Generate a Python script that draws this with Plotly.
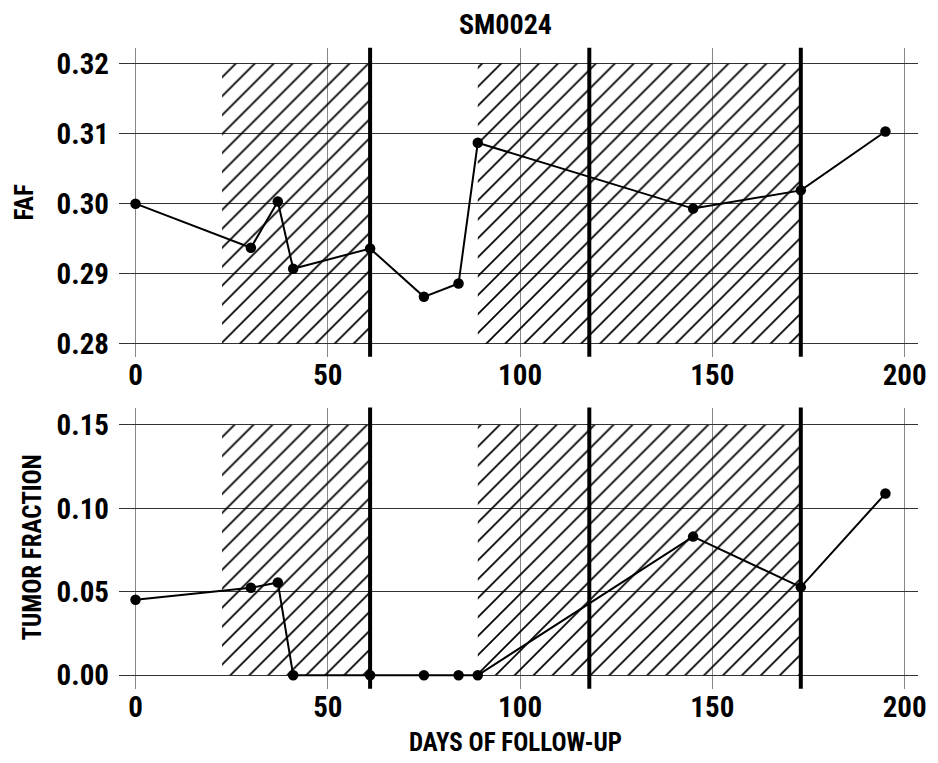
import plotly.graph_objects as go

# ---- data ----
days = [0, 30, 37, 41, 61, 75, 84, 89, 145, 173, 195]
faf = [0.3000, 0.2937, 0.3003, 0.2907, 0.2936, 0.2867, 0.2886, 0.3087, 0.2993, 0.3019, 0.3103]
tumor_fraction = [0.0452, 0.0524, 0.0556, 0.0, 0.0, 0.0, 0.0, 0.0, 0.0831, 0.0528, 0.1089]
event_days = [61, 118, 173]
hatch_spans = [(22.5, 61), (89, 173)]
faf_hatch_range = [0.28, 0.32]
tf_hatch_range = [0.0, 0.15]
x_ticks = [0, 50, 100, 150, 200]
faf_ticks = [0.28, 0.29, 0.30, 0.31, 0.32]
tf_ticks = [0.00, 0.05, 0.10, 0.15]
title_text = "SM0024"

FONT = "Roboto Condensed, Liberation Sans Narrow, Liberation Sans, Arial, sans-serif"

fig = go.Figure()

def add_hatch(xa, ya, yr):
    for x0, x1 in hatch_spans:
        fig.add_trace(go.Scatter(
            x=[x0, x1, x1, x0, x0], y=[yr[0], yr[0], yr[1], yr[1], yr[0]],
            xaxis=xa, yaxis=ya, mode="lines", line=dict(width=0, color="rgba(0,0,0,0)"),
            fill="toself", fillcolor="rgba(0,0,0,0)",
            fillpattern=dict(shape="/", size=13.4, solidity=0.13, fgcolor="black",
                             fgopacity=1, bgcolor="rgba(255,255,255,0)", fillmode="overlay"),
            hoverinfo="skip", showlegend=False))

add_hatch("x", "y", faf_hatch_range)
add_hatch("x2", "y2", tf_hatch_range)

for xa, ya, vals in (("x", "y", faf), ("x2", "y2", tumor_fraction)):
    fig.add_trace(go.Scatter(
        x=days, y=vals, xaxis=xa, yaxis=ya, mode="lines+markers",
        line=dict(color="black", width=2),
        marker=dict(color="black", size=10.5),
        showlegend=False))

for d in event_days:
    for xr, yr in (("x", "y domain"), ("x2", "y2 domain")):
        fig.add_shape(type="line", x0=d, x1=d, y0=0, y1=1, xref=xr, yref=yr,
                      line=dict(color="black", width=4), layer="above")

tickfont = dict(family=FONT, size=29, color="black", weight="bold")
xcommon = dict(range=[-4.3, 203.5], tickvals=x_ticks, showgrid=True, gridcolor="#888",
               gridwidth=1, zeroline=False, showline=False, ticks="",
               tickfont=tickfont, ticklabelstandoff=-2, ticklabeloverflow="allow")

fig.update_layout(
    width=938, height=763,
    margin=dict(l=0, r=0, t=0, b=0),
    paper_bgcolor="white", plot_bgcolor="white",
    xaxis=dict(domain=[120/938, 926/938], anchor="y", **xcommon),
    xaxis2=dict(domain=[120/938, 926/938], anchor="y2", **xcommon),
    yaxis=dict(domain=[1-358/763, 1-47/763], anchor="x", range=[0.27816, 0.32227],
               tickvals=faf_ticks, tickformat=".2f", showgrid=True, gridcolor="#333",
               gridwidth=1, zeroline=False, showline=False, ticks="",
               tickfont=tickfont, ticklabelstandoff=9, ticklabeloverflow="allow"),
    yaxis2=dict(domain=[1-692.3/763, 1-409.3/763], anchor="x2", range=[-0.0081, 0.1604],
                tickvals=tf_ticks, tickformat=".2f", showgrid=True, gridcolor="#333",
                gridwidth=1, zeroline=False, showline=False, ticks="",
                tickfont=tickfont, ticklabelstandoff=9, ticklabeloverflow="allow"),
    annotations=[
        dict(text=title_text, x=510/938, y=1-23.5/763, xref="paper", yref="paper",
             xanchor="center", yanchor="middle", showarrow=False,
             font=dict(family=FONT, size=28, color="black", weight="bold")),
        dict(text="FAF", x=24.5/938, y=1-202.5/763, xref="paper", yref="paper",
             xanchor="center", yanchor="middle", textangle=-90, showarrow=False,
             font=dict(family=FONT, size=25, color="black", weight="bold")),
        dict(text="TUMOR FRACTION", x=32.5/938, y=1-550/763, xref="paper", yref="paper",
             xanchor="center", yanchor="middle", textangle=-90, showarrow=False,
             font=dict(family=FONT, size=25, color="black", weight="bold")),
        dict(text="DAYS OF FOLLOW-UP", x=520/938, y=1-746/763, xref="paper", yref="paper",
             xanchor="center", yanchor="middle", showarrow=False,
             font=dict(family=FONT, size=25, color="black", weight="bold")),
    ],
)

fig.write_html("out.html")
